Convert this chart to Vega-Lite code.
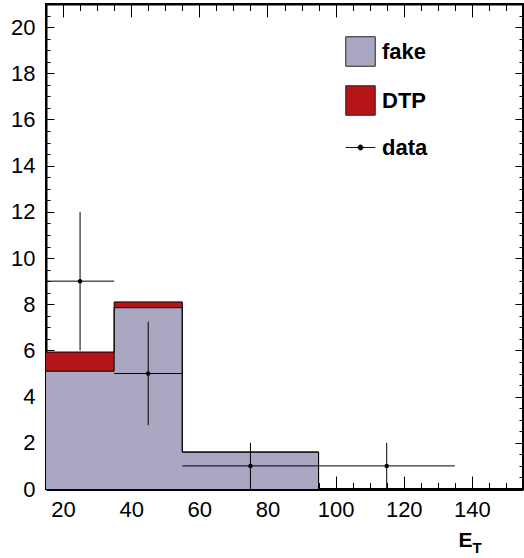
{
  "$schema": "https://vega.github.io/schema/vega-lite/v6.json",
  "width": 477,
  "height": 485,
  "autosize": {"type": "none"},
  "padding": {"left": 46, "top": 4, "right": 1, "bottom": 69},
  "background": "white",
  "config": {
    "view": {"stroke": "black", "strokeWidth": 2},
    "font": "Liberation Sans",
    "axis": {"grid": false, "zindex": 1, "labelFont": "Liberation Sans", "labelColor": "black", "tickColor": "black", "domainColor": "black", "titleColor": "black", "labelOverlap": false, "labelFlush": false, "tickWidth": 1}
  },
  "datasets": {
    "hist": [
      {"x": 15, "fake": 5.1, "total": 5.93},
      {"x": 35, "fake": 7.85, "total": 8.1},
      {"x": 55, "fake": 1.6, "total": 1.6},
      {"x": 95, "fake": 0, "total": 0}
    ],
    "points": [
      {"x": 25, "xlo": 15, "xhi": 35, "y": 9, "ylo": 6, "yhi": 12},
      {"x": 45, "xlo": 35, "xhi": 55, "y": 5, "ylo": 2.76, "yhi": 7.24},
      {"x": 75, "xlo": 55, "xhi": 95, "y": 1, "ylo": 0, "yhi": 2},
      {"x": 115, "xlo": 95, "xhi": 135, "y": 1, "ylo": 0, "yhi": 2}
    ],
    "legendrows": [
      {"series": "fake"},
      {"series": "DTP"},
      {"series": "data"}
    ]
  },
  "layer": [
    {
      "data": {"name": "hist"},
      "mark": {"type": "area", "interpolate": "step-after", "color": "#a9a7c2"},
      "encoding": {
        "x": {"field": "x", "type": "quantitative", "scale": {"domain": [15, 155], "nice": false, "zero": false},
          "axis": {
            "orient": "bottom",
            "values": [20, 40, 60, 80, 100, 120, 140],
            "format": "d",
            "ticks": false,
            "tickSize": 0,
            "domainWidth": 3,
            "labelFontSize": 22,
            "labelPadding": 10,
            "title": "E",
            "titleFont": "Liberation Sans",
            "titleFontSize": 21,
            "titleFontWeight": "bold",
            "titleAlign": "left",
            "titleBaseline": "alphabetic",
            "titleX": 412,
            "titleY": 57
          }
        },
        "y": {"field": "fake", "type": "quantitative", "scale": {"domain": [0, 21], "nice": false, "zero": false},
          "axis": {
            "orient": "left",
            "values": [0, 2, 4, 6, 8, 10, 12, 14, 16, 18, 20],
            "format": "d",
            "ticks": false,
            "tickSize": 0,
            "domainWidth": 2,
            "labelFontSize": 22,
            "labelPadding": 11,
            "title": null
          }
        },
        "y2": {"datum": 0}
      }
    },
    {
      "data": {"name": "hist"},
      "mark": {"type": "area", "interpolate": "step-after", "color": "#b51519"},
      "encoding": {
        "x": {"field": "x", "type": "quantitative", "scale": {"domain": [15, 155], "nice": false, "zero": false},
          "axis": {
            "orient": "top", "offset": -485,
            "values": [20, 40, 60, 80, 100, 120, 140],
            "tickSize": 13,
            "domain": false,
            "labels": false,
            "title": null
          }
        },
        "y": {"field": "total", "type": "quantitative", "scale": {"domain": [0, 21], "nice": false, "zero": false},
          "axis": {
            "orient": "right", "offset": -477,
            "values": [0, 2, 4, 6, 8, 10, 12, 14, 16, 18, 20],
            "tickSize": 8,
            "domain": false,
            "labels": false,
            "title": null
          }
        },
        "y2": {"field": "fake"}
      }
    },
    {
      "data": {"name": "hist"},
      "mark": {"type": "line", "interpolate": "step-after", "color": "black", "strokeWidth": 1},
      "encoding": {
        "x": {"field": "x", "type": "quantitative", "scale": {"domain": [15, 155], "nice": false, "zero": false},
          "axis": {
            "orient": "top", "offset": -485,
            "values": [20,25,30,35,45,50,55,60,65,70,75,85,90,95,100,105,110,115,125,130,135,140,145,150],
            "tickSize": 6.5,
            "domain": false,
            "labels": false,
            "title": null
          }
        },
        "y": {"field": "fake", "type": "quantitative", "scale": {"domain": [0, 21], "nice": false, "zero": false},
          "axis": {
            "orient": "right", "offset": -477,
            "values": [0.5,1,1.5,2.5,3,3.5,4.5,5,5.5,6.5,7,7.5,8.5,9,9.5,10.5,11,11.5,12.5,13,13.5,14.5,15,15.5,16.5,17,17.5,18.5,19,19.5,20.5],
            "tickSize": 4,
            "domain": false,
            "labels": false,
            "title": null
          }
        }
      }
    },
    {
      "data": {"name": "hist"},
      "mark": {"type": "line", "interpolate": "step-after", "color": "black", "strokeWidth": 1},
      "encoding": {
        "x": {"field": "x", "type": "quantitative", "scale": {"domain": [15, 155], "nice": false, "zero": false},
          "axis": {
            "orient": "bottom", "offset": -485,
            "values": [20, 40, 60, 80, 100, 120, 140],
            "tickSize": 13,
            "domain": true,
            "domainWidth": 2,
            "labels": false,
            "title": null
          }
        },
        "y": {"field": "total", "type": "quantitative", "scale": {"domain": [0, 21], "nice": false, "zero": false},
          "axis": {
            "orient": "left", "offset": -477,
            "values": [0, 2, 4, 6, 8, 10, 12, 14, 16, 18, 20],
            "tickSize": 8,
            "domain": true,
            "domainWidth": 2,
            "labels": false,
            "title": null
          }
        }
      }
    },
    {
      "data": {"name": "points"},
      "mark": {"type": "rule", "color": "black", "strokeWidth": 1},
      "encoding": {
        "x": {"field": "xlo", "type": "quantitative", "scale": {"domain": [15, 155], "nice": false, "zero": false},
          "axis": {
            "orient": "bottom", "offset": -485,
            "values": [20,25,30,35,45,50,55,60,65,70,75,85,90,95,100,105,110,115,125,130,135,140,145,150],
            "tickSize": 6.5,
            "domain": false,
            "labels": false,
            "title": null
          }
        },
        "x2": {"field": "xhi"},
        "y": {"field": "y", "type": "quantitative", "scale": {"domain": [0, 21], "nice": false, "zero": false},
          "axis": {
            "orient": "left", "offset": -477,
            "values": [0.5,1,1.5,2.5,3,3.5,4.5,5,5.5,6.5,7,7.5,8.5,9,9.5,10.5,11,11.5,12.5,13,13.5,14.5,15,15.5,16.5,17,17.5,18.5,19,19.5,20.5],
            "tickSize": 4,
            "domain": false,
            "labels": false,
            "title": null
          }
        }
      }
    },
    {
      "data": {"name": "points"},
      "mark": {"type": "rule", "color": "black", "strokeWidth": 1},
      "encoding": {
        "x": {"field": "x", "type": "quantitative", "scale": {"domain": [15, 155], "nice": false, "zero": false},
          "axis": {
            "orient": "bottom",
            "values": [20],
            "domain": false,
            "ticks": false,
            "labels": false,
            "title": "T",
            "titleFont": "Liberation Sans",
            "titleFontSize": 15,
            "titleFontWeight": "bold",
            "titleAlign": "left",
            "titleBaseline": "alphabetic",
            "titleX": 426,
            "titleY": 63
          }
        },
        "y": {"field": "ylo", "type": "quantitative", "scale": {"domain": [0, 21], "nice": false, "zero": false}, "axis": null},
        "y2": {"field": "yhi"}
      }
    },
    {
      "data": {"name": "points"},
      "mark": {"type": "point", "filled": true, "shape": "circle", "size": 20, "color": "black", "opacity": 1},
      "encoding": {
        "x": {"field": "x", "type": "quantitative", "scale": {"domain": [15, 155], "nice": false, "zero": false}, "axis": null},
        "y": {"field": "y", "type": "quantitative", "scale": {"domain": [0, 21], "nice": false, "zero": false}, "axis": null}
      }
    },
    {
      "data": {"name": "legendrows"},
      "mark": {"type": "point", "filled": true, "opacity": 0, "strokeWidth": 1},
      "encoding": {
        "fill": {"field": "series", "type": "nominal",
          "scale": {"domain": ["fake", "DTP", "data"], "range": ["#a9a7c2", "#b51519", "#000000"]},
          "legend": {
            "orient": "none", "legendX": 299, "legendY": 32, "title": null, "padding": 0,
            "symbolSize": 870, "symbolStrokeWidth": 1, "symbolOpacity": 1,
            "labelFont": "Liberation Sans", "labelFontSize": 22, "labelFontWeight": "bold", "labelColor": "black",
            "labelOffset": 6, "rowPadding": 14
          }},
        "stroke": {"field": "series", "type": "nominal",
          "scale": {"domain": ["fake", "DTP", "data"], "range": ["#222222", "#222222", "#111111"]},
          "legend": {
            "orient": "none", "legendX": 299, "legendY": 32, "title": null, "padding": 0,
            "symbolSize": 870, "symbolStrokeWidth": 1, "symbolOpacity": 1,
            "labelFont": "Liberation Sans", "labelFontSize": 22, "labelFontWeight": "bold", "labelColor": "black",
            "labelOffset": 6, "rowPadding": 14
          }},
        "shape": {"field": "series", "type": "nominal",
          "scale": {"domain": ["fake", "DTP", "data"], "range": ["square", "square", "M-1,0H1M0.17,0A0.17,0.17,0,1,1,-0.17,0A0.17,0.17,0,1,1,0.17,0Z"]},
          "legend": {
            "orient": "none", "legendX": 299, "legendY": 32, "title": null, "padding": 0,
            "symbolSize": 870, "symbolStrokeWidth": 1, "symbolOpacity": 1,
            "labelFont": "Liberation Sans", "labelFontSize": 22, "labelFontWeight": "bold", "labelColor": "black",
            "labelOffset": 6, "rowPadding": 14
          }}
      }
    }
  ],
  "resolve": {"axis": {"x": "independent", "y": "independent"}}
}
